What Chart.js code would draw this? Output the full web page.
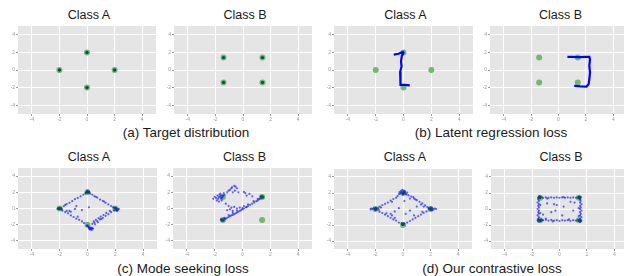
<!DOCTYPE html>
<html><head><meta charset="utf-8">
<script src="https://cdn.jsdelivr.net/npm/chart.js@4/dist/chart.umd.min.js"></script>
<style>
body{margin:0;background:#fff;width:624px;height:276px;overflow:hidden;position:relative;font-family:"Liberation Sans",Arial,sans-serif}
canvas{position:absolute}
.t{position:absolute;transform:translate(-50%,-50%);white-space:nowrap;color:#1a1a1a}
</style></head><body>
<script>
// ---------- data ----------
const tickValues = [-4, -2, 0, 2, 4];
const axisRange = [-5, 5];
const classATargets = [[0,2],[2,0],[0,-2],[-2,0]];
const classBTargets = [[1.41,1.41],[-1.41,1.41],[1.41,-1.41],[-1.41,-1.41]];

const latentAPath = [[-0.7,1.75],[-0.35,1.85],[-0.05,2.05],[0.0,1.95],[-0.12,1.6],[-0.18,1.0],[-0.14,0.4],[-0.24,-0.2],[-0.2,-0.6],[-0.25,-1.1],[-0.2,-1.7],[0.1,-1.7],[0.45,-1.75]];
const latentBPath = [[0.65,1.5],[1.0,1.5],[1.5,1.47],[2.0,1.5],[2.25,1.5],[2.3,1.2],[2.25,0.5],[2.3,-0.3],[2.25,-1.0],[2.2,-1.6],[2.05,-1.88],[1.6,-1.85],[1.15,-1.8]];

const modeSeekA = [
 [0,2.05],[-0.05,2.1],[0.05,1.95],[0.1,2.1],[-0.1,1.95],[0.0,2.2],[0.12,2.0],
 [2.0,0.0],[2.1,-0.1],[2.05,0.05],[2.2,-0.15],[2.15,-0.25],[1.95,0.1],[2.25,-0.05],[2.1,-0.3],
 [-2,0],[-2.1,0.05],[-1.95,-0.05],[-2.05,-0.1],[-1.9,0.05],[-2.15,-0.05],[-1.85,-0.1],
 [0,-2.1],[0.1,-2.3],[0.2,-2.4],[0.3,-2.5],[0.15,-2.55],[0.25,-2.35],[0.05,-2.2],[0.35,-2.4],[-0.05,-2.15],[0.2,-2.6],[0.4,-2.5],[0.3,-2.65],[0.1,-2.45],
 [-1.7,0.3],[-1.5,0.55],[-1.3,0.7],[-1.1,0.9],[-0.9,1.15],[-0.7,1.3],[-0.5,1.5],[-0.3,1.7],[-1.6,0.45],[-0.15,1.85],
 [0.2,1.85],[0.35,1.7],[0.5,1.5],[0.7,1.35],[0.9,1.1],[1.1,0.95],[1.3,0.7],[1.5,0.5],[1.7,0.3],[0.6,1.45],[1.2,0.85],[1.85,0.15],
 [-1.8,-0.25],[-1.6,-0.45],[-1.4,-0.6],[-1.2,-0.85],[-1.0,-1.05],[-0.8,-1.25],[-0.6,-1.4],[-0.4,-1.6],[-0.25,-1.8],[-1.5,-0.3],[-1.2,-0.4],[-0.7,-1.0],
 [1.9,-0.25],[1.7,-0.45],[1.6,-0.3],[1.5,-0.7],[1.35,-0.55],[1.3,-0.9],[1.15,-0.8],[1.1,-1.15],[0.95,-1.0],[0.9,-1.35],[0.8,-1.2],[0.7,-1.55],[0.6,-1.4],[0.5,-1.75],[0.45,-1.6],[0.35,-1.9],[1.0,-1.3],[0.75,-1.7],[0.55,-1.95],
 [0.1,0.15],[-0.8,0.3],[-1.3,-0.3],[-0.9,-0.05],[-0.4,-0.2]
];
const modeSeekB = [
 [-1.6,1.5],[-1.7,1.4],[-1.5,1.6],[-1.8,1.6],[-1.65,1.7],[-1.45,1.35],[-1.9,1.3],[-1.75,1.2],[-1.55,1.25],[-1.4,1.55],[-2.0,1.45],[-1.6,1.85],[-1.3,1.7],[-1.85,1.0],[-1.5,1.0],[-1.7,0.85],[-2.1,1.2],[-1.35,1.9],
 [-1.1,2.0],[-0.9,2.3],[-0.75,2.6],[-0.6,2.8],[-0.5,2.7],[-0.4,2.5],[-0.8,2.5],[-0.55,2.2],[-0.3,2.0],[-1.0,2.2],[-0.7,2.0],
 [0.2,1.9],[0.5,1.8],[0.3,1.6],[0.7,1.5],[0.1,2.05],
 [-1.2,0.6],[-1.0,0.3],[-0.8,0.1],[-0.6,0.2],[-0.9,-0.1],[-0.4,0.0],[-1.1,-0.2],[-0.7,-0.3],[-0.2,0.1],[0.1,0.3],[0.3,0.2],
 [-1.5,-1.45],[-1.4,-1.4],[-1.3,-1.3],[-1.2,-1.25],[-1.1,-1.15],[-1.0,-1.05],[-0.9,-0.95],[-0.8,-0.85],[-0.7,-0.8],[-0.6,-0.7],[-0.5,-0.6],[-0.4,-0.5],[-0.3,-0.4],[-0.2,-0.3],[-0.1,-0.2],[0.0,-0.1],[0.1,0.0],[0.25,0.15],[0.4,0.3],[0.55,0.45],[0.7,0.6],[0.85,0.75],[1.0,0.9],[1.1,1.0],[1.2,1.15],[1.3,1.25],[1.4,1.4],[1.45,1.5],[1.35,1.45],
 [-1.3,-1.15],[-1.0,-0.8],[-0.7,-0.55],[-0.4,-0.25],[0.0,0.05],[0.4,0.5],[0.8,0.9],[1.1,1.2],[1.3,1.5],[1.5,1.35],[-1.55,-1.35],[-1.35,-1.5]
];
const oursA = [
 [0,2],[0.1,2.1],[-0.1,2.05],[0.2,1.9],[-0.2,1.95],[0.05,2.3],[-0.05,2.4],[0.15,2.2],[-0.25,2.1],[0.3,2.05],[0.0,1.8],[-0.15,2.25],[0.25,1.8],[-0.3,1.85],[0.1,1.95],
 [2,0],[2.1,0.1],[1.9,-0.05],[2.2,-0.05],[2.0,0.2],[2.3,0.05],[1.85,0.1],[2.1,-0.15],[2.4,0.0],[2.05,-0.1],
 [-2,0],[-2.1,0.1],[-1.9,-0.05],[-2.2,0.0],[-2.3,0.05],[-1.8,0.1],[-2.0,-0.15],[-1.95,0.15],[-2.35,-0.05],[-1.75,-0.1],
 [0,-1.9],[0.05,-1.8],[-0.05,-1.95],[0.1,-1.85],[-0.1,-1.75],
 [-1.7,0.3],[-1.5,0.5],[-1.3,0.65],[-1.1,0.8],[-0.9,1.05],[-0.7,1.25],[-0.5,1.4],[-0.4,1.6],[-1.6,0.2],[-0.8,0.9],
 [0.4,1.7],[0.6,1.55],[0.8,1.3],[1.0,1.1],[1.2,0.9],[1.4,0.7],[1.6,0.45],[1.75,0.25],[0.75,1.5],[1.3,0.55],[0.9,1.2],[1.5,0.3],[0.5,1.3],
 [-1.7,-0.35],[-1.5,-0.5],[-1.3,-0.7],[-1.1,-0.9],[-0.9,-1.1],[-0.7,-1.3],[-0.5,-1.45],[-0.3,-1.7],[-1.2,-0.55],[-0.8,-0.8],[-0.6,-1.1],
 [1.7,-0.3],[1.5,-0.5],[1.3,-0.7],[1.1,-0.9],[0.9,-1.1],[0.7,-1.3],[0.5,-1.5],[0.3,-1.7],[1.4,-0.35],[0.8,-0.8],
 [0.1,1.0],[-0.3,0.1],[-0.6,-0.3],[0.5,-0.2],[0.2,-0.6],[-0.9,-0.6],[1.0,0.3]
];
const oursB = [
 [-1.45,1.45],[-1.5,1.5],[-1.4,1.35],[-1.55,1.4],[-1.35,1.5],[-1.45,1.6],
 [1.45,1.45],[1.5,1.4],[1.4,1.55],[1.55,1.5],[1.35,1.4],[1.5,1.3],
 [-1.45,-1.45],[-1.5,-1.35],[-1.4,-1.5],[-1.6,-1.4],[-1.35,-1.3],[-1.55,-1.55],[-1.3,-1.45],
 [1.45,-1.45],[1.5,-1.4],[1.4,-1.5],[1.55,-1.55],[1.35,-1.35],[1.5,-1.6],[1.6,-1.45],
 [-1.2,1.4],[-1.0,1.45],[-0.8,1.4],[-0.6,1.45],[-0.4,1.4],[-0.2,1.45],[0.0,1.4],[0.2,1.45],[0.4,1.4],[0.6,1.45],[0.8,1.4],[1.0,1.45],[1.2,1.4],[-0.9,1.3],[0.3,1.5],
 [-1.2,-1.4],[-1.0,-1.35],[-0.8,-1.45],[-0.6,-1.35],[-0.4,-1.45],[-0.2,-1.4],[0.0,-1.5],[0.2,-1.4],[0.4,-1.45],[0.6,-1.4],[0.8,-1.5],[1.0,-1.4],[1.2,-1.45],[-0.5,-1.55],[0.7,-1.3],[-1.0,-1.2],
 [-1.55,1.2],[-1.5,1.0],[-1.6,0.8],[-1.5,0.6],[-1.55,0.4],[-1.5,0.2],[-1.6,0.0],[-1.5,-0.2],[-1.55,-0.4],[-1.5,-0.6],[-1.6,-0.8],[-1.5,-1.0],[-1.55,-1.2],[-1.4,0.5],[-1.4,-0.5],
 [1.5,1.2],[1.55,1.0],[1.5,0.8],[1.6,0.6],[1.5,0.4],[1.55,0.2],[1.5,0.0],[1.6,-0.2],[1.5,-0.4],[1.55,-0.6],[1.5,-0.8],[1.6,-1.0],[1.5,-1.2],[1.4,0.1],[1.4,-0.9],
 [-0.2,0.5],[-0.4,0.6],[-0.9,0.7],[0.3,0.3],[-1.2,-0.7],[-0.6,-0.4],[0.2,-0.8],[1.0,-0.2],[-0.3,-0.2],[0.8,0.9],[1.1,0.8]
];
// dense (dark) cluster centres
const denseTargetA = [[0,2],[2,0],[0,-2],[-2,0]];
const denseTargetB = [[1.41,1.41],[-1.41,1.41],[1.41,-1.41],[-1.41,-1.41]];
const denseModeSeekA = [[0,2.05],[2.05,-0.05],[-2,0]];
const denseModeSeekB = [[-1.45,-1.42],[1.4,1.42]];
const denseOursA = [[0,2.0],[2.0,0],[-2,0],[0,-1.9]];
const denseOursB = [[-1.45,1.45],[1.45,1.45],[-1.45,-1.45],[1.45,-1.45]];

const titles = ["Class A","Class B","Class A","Class B","Class A","Class B","Class A","Class B"];
const captions = ["(a) Target distribution","(b) Latent regression loss","(c) Mode seeking loss","(d) Our contrastive loss"];

// ---------- layout ----------
const GREEN = '#72b872', DARK = '#0b4d5a', BLUE = 'rgba(0,0,255,0.6)';
const YW = 12, XH = 10;
const panels = [
 {l:18,   t:22,  w:142, h:92, tg:classATargets, dense:denseTargetA, title:0},
 {l:174,  t:22,  w:142, h:92, tg:classBTargets, dense:denseTargetB, title:1},
 {l:334,  t:22,  w:143, h:92, tg:classATargets, path:latentAPath, title:2},
 {l:490,  t:22,  w:141, h:92, tg:classBTargets, path:latentBPath, title:3},
 {l:17.5, t:164, w:143, h:85, tg:classATargets, pts:modeSeekA, dense:denseModeSeekA, title:4},
 {l:173,  t:164, w:143, h:85, tg:classBTargets, pts:modeSeekB, dense:denseModeSeekB, title:5},
 {l:334,  t:165, w:142, h:84, tg:classATargets, pts:oursA, dense:denseOursA, title:6},
 {l:490.5,t:165, w:141, h:84, tg:classBTargets, pts:oursB, dense:denseOursB, title:7}
];
const capPos = [[186,132],[491,132],[183,268],[492,268]];

const toXY = a => a.map(p => ({x:p[0], y:p[1]}));
const bgPlugin = {id:'bg', beforeDraw(c){const a=c.chartArea,x=c.ctx;x.save();x.fillStyle='#e5e5e5';x.fillRect(a.left,a.top,a.right-a.left,a.bottom-a.top);x.restore();}};

function addText(txt, x, y, size){
  const d=document.createElement('div'); d.className='t'; d.textContent=txt;
  d.style.left=x+'px'; d.style.top=y+'px'; d.style.fontSize=size+'px';
  document.body.appendChild(d);
}

panels.forEach((p,i)=>{
  const cv=document.createElement('canvas');
  const W=Math.round(p.w+YW), H=Math.round(p.h+XH);
  cv.width=W; cv.height=H;
  cv.style.left=(p.l-YW)+'px'; cv.style.top=p.t+'px';
  cv.style.width=W+'px'; cv.style.height=H+'px';
  document.body.appendChild(cv);
  const ds=[];
  if(p.dense) ds.push({data:toXY(p.dense), pointRadius:1.7, pointBorderWidth:0, backgroundColor:DARK, borderWidth:0});
  if(p.pts) ds.push({data:toXY(p.pts), pointRadius:1.1, pointBorderWidth:0, backgroundColor:BLUE, borderWidth:0});
  if(p.path) ds.push({data:toXY(p.path), showLine:true, borderColor:'#0000ff', borderWidth:2.2, pointRadius:0, tension:0});
  ds.push({data:toXY(p.tg), pointRadius:3, pointBorderWidth:0, backgroundColor:GREEN, borderWidth:0});
  const tickOpt = {color:'#9a9a9a', font:{size:5, family:'Liberation Sans'}, padding:1};
  const gridOpt = {color:'#ffffff', lineWidth:1, drawTicks:true, tickLength:2, tickColor:'#9a9a9a'};
  new Chart(cv,{type:'scatter',data:{datasets:ds},plugins:[bgPlugin],
    options:{responsive:false,animation:false,devicePixelRatio:1,
      layout:{padding:0},
      plugins:{legend:{display:false},tooltip:{enabled:false}},
      scales:{
        x:{min:axisRange[0],max:axisRange[1],border:{display:false},grid:gridOpt,ticks:{...tickOpt,maxRotation:0},
           afterBuildTicks:s=>{s.ticks=tickValues.map(v=>({value:v}));},afterFit:s=>{s.height=XH;}},
        y:{min:axisRange[0],max:axisRange[1],border:{display:false},grid:gridOpt,ticks:tickOpt,
           afterBuildTicks:s=>{s.ticks=tickValues.map(v=>({value:v}));},afterFit:s=>{s.width=YW;}}
      }}});
  addText(titles[p.title], p.l+p.w/2, p.t<100?15:157, 12.5);
});
captions.forEach((c,i)=>addText(c, capPos[i][0], capPos[i][1], 13.5));
</script>
</body></html>
